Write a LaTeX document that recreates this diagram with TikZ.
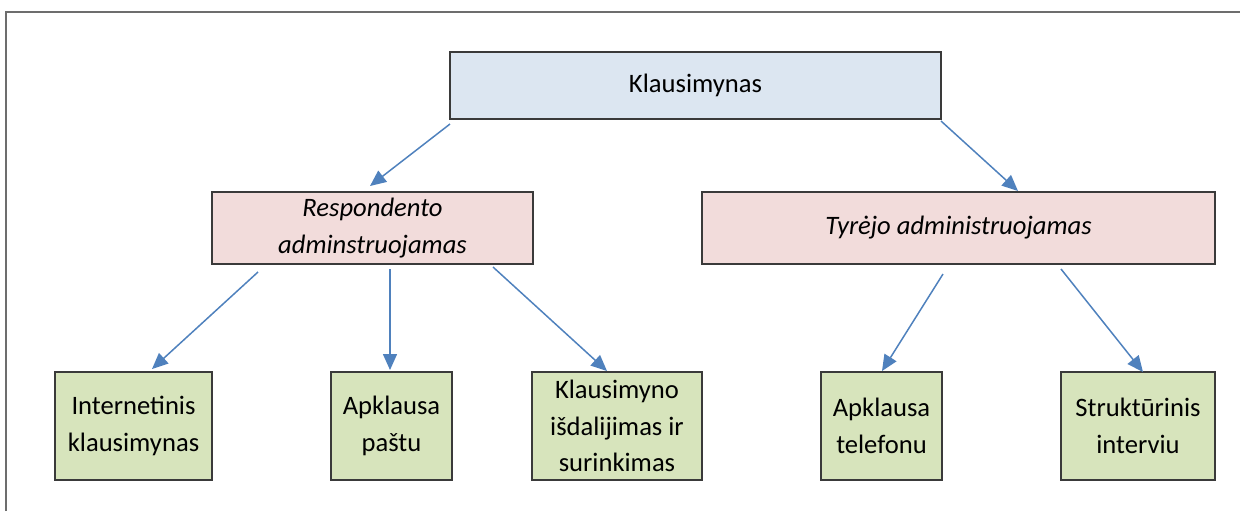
\documentclass[tikz,border=0pt]{standalone}
\usepackage{fontspec}
\setmainfont{Carlito}
\usetikzlibrary{arrows.meta}
\definecolor{boxblue}{HTML}{DCE6F1}
\definecolor{boxpink}{HTML}{F2DCDB}
\definecolor{boxgreen}{HTML}{D7E4BC}
\definecolor{arrowblue}{HTML}{4F81BD}
\definecolor{edgegray}{HTML}{3A3A3A}
\definecolor{framegray}{HTML}{6D6D6D}
\tikzset{
  box/.style={draw=edgegray, line width=0.9pt, inner sep=0pt, align=center,
    font=\fontsize{13.3pt}{18.2pt}\selectfont},
  bluebox/.style={box, fill=boxblue},
  pinkbox/.style={box, fill=boxpink},
  greenbox/.style={box, fill=boxgreen},
  conn/.style={draw=arrowblue, line width=0.75pt, -{Triangle[length=8pt,width=7pt]}},
}
\begin{document}
\begin{tikzpicture}[x=0.5pt,y=-0.5pt]
\useasboundingbox (0,0) rectangle (1240,511);
\draw[framegray, line width=1pt] (6,511) -- (6,11.5) -- (1240,11.5);

\node[bluebox, minimum width=245.5pt, minimum height=33.5pt] (top) at (695.5,85.5) {Klausimynas};
\node[pinkbox, minimum width=160.5pt, minimum height=36pt] (resp) at (372.5,228) {\itshape Respondento\\\itshape adminstruojamas};
\node[pinkbox, minimum width=256.5pt, minimum height=36pt] (tyr) at (958.5,228) {\itshape Tyrėjo administruojamas};
\node[greenbox, minimum width=78.5pt, minimum height=54pt] (int) at (133.5,426) {Internetinis\\klausimynas};
\node[greenbox, minimum width=60.5pt, minimum height=54pt] (pas) at (391.5,426) {Apklausa\\paštu};
\node[greenbox, minimum width=85pt, minimum height=54pt] (isd) at (617,426) {Klausimyno\\išdalijimas ir\\surinkimas};
\node[greenbox, minimum width=60.5pt, minimum height=54pt] (tel) at (881.5,426) {Apklausa\\telefonu};
\node[greenbox, minimum width=77pt, minimum height=54pt] (str) at (1138,426) {Struktūrinis\\interviu};

\coordinate (a1s) at (450,124);  \coordinate (a1e) at (370,186);
\coordinate (a2s) at (941,121);  \coordinate (a2e) at (1018,191);
\coordinate (a3s) at (258,272);  \coordinate (a3e) at (152,369);
\coordinate (a4s) at (390,269);  \coordinate (a4e) at (390,370);
\coordinate (a5s) at (493,267);  \coordinate (a5e) at (607,371);
\coordinate (a6s) at (943,274);  \coordinate (a6e) at (882,371);
\coordinate (a7s) at (1061,269); \coordinate (a7e) at (1143,372);

\draw[conn] (a1s) -- (a1e);
\draw[conn] (a2s) -- (a2e);
\draw[conn] (a3s) -- (a3e);
\draw[conn] (a4s) -- (a4e);
\draw[conn] (a5s) -- (a5e);
\draw[conn] (a6s) -- (a6e);
\draw[conn] (a7s) -- (a7e);
\end{tikzpicture}
\end{document}
